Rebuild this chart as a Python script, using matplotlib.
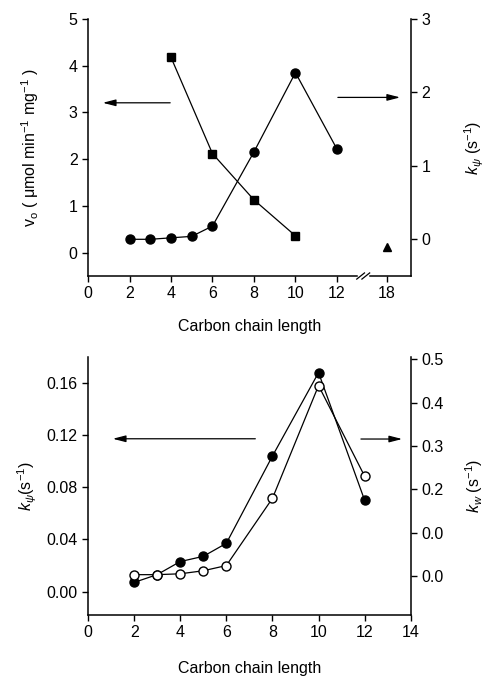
import matplotlib
matplotlib.use("Agg")
import matplotlib.pyplot as plt
from matplotlib.scale import FuncScale
import numpy as np

plt.rcParams["font.family"] = ["Liberation Sans", "DejaVu Sans"]
plt.rcParams["mathtext.fontset"] = "custom"
plt.rcParams["mathtext.rm"] = "Liberation Sans"
plt.rcParams["mathtext.it"] = "Liberation Sans:italic"
plt.rcParams["font.size"] = 11

# top panel: v_o (squares, left axis), k_psi (circles, right axis), C18 (triangle)
top_sq_x = [4, 6, 8, 10]
top_sq_v = [4.18, 2.12, 1.13, 0.36]
top_circ_x = [2, 3, 4, 5, 6, 8, 10, 12]
top_circ_k = [0.0, 0.0, 0.02, 0.04, 0.18, 1.19, 2.27, 1.23]
top_tri_x = [18]
top_tri_v = [0.12]
top_xticks = [0, 2, 4, 6, 8, 10, 12, 18]

# bottom panel: filled circles (left axis), open circles (right axis)
bot_x = [2, 3, 4, 5, 6, 8, 10, 12]
bot_filled = [0.007, 0.013, 0.023, 0.027, 0.037, 0.104, 0.168, 0.070]
bot_open = [0.003, 0.003, 0.005, 0.012, 0.024, 0.179, 0.439, 0.230]
bot_right_ticks = [0.0, 0.1, 0.2, 0.3, 0.4, 0.5]
bot_right_labels = ["0.0", "0.0", "0.2", "0.3", "0.4", "0.5"]

TICK_FS = 11.5
LABEL_FS = 11.5


def fwd(x):
    x = np.asarray(x, dtype=float)
    return np.where(x <= 12, x, 12 + (x - 12) * 0.4)


def inv(y):
    y = np.asarray(y, dtype=float)
    return np.where(y <= 12, y, 12 + (y - 12) / 0.4)


def style_axes(ax, ax2):
    for a in (ax, ax2):
        a.spines["top"].set_visible(False)
        for s in ("left", "right", "bottom"):
            a.spines[s].set_linewidth(1.1)
        a.tick_params(direction="out", length=4, width=1.0, labelsize=TICK_FS)
    ax.spines["right"].set_visible(False)
    ax2.spines["left"].set_visible(False)
    ax2.spines["bottom"].set_visible(False)


def arrow(ax, x0, x1, y):
    ax.annotate("", xy=(x1, y), xytext=(x0, y), xycoords="axes fraction",
                arrowprops=dict(arrowstyle="-|>,head_length=0.7,head_width=0.18",
                                lw=0.9, color="black"))


fig = plt.figure(figsize=(4.89, 6.77), dpi=100)

# ---- top panel
ax1 = fig.add_axes([0.180, 0.5923, 0.6605, 0.3796])
ax1.set_xscale(FuncScale(ax1, (fwd, inv)))
ax1r = ax1.twinx()
ax1.plot(top_sq_x, top_sq_v, "s-", color="black", ms=6.2, lw=0.9)
ax1.plot(top_tri_x, top_tri_v, "^", color="black", ms=6)
ax1r.plot(top_circ_x, top_circ_k, "o-", color="black", ms=6.5, lw=0.9)
ax1.set_xlim(0, 20.93)
ax1.set_ylim(-0.5, 5)
ax1r.set_ylim(-0.5, 3)
ax1.set_xticks(top_xticks)
ax1.set_yticks([0, 1, 2, 3, 4, 5])
ax1r.set_yticks([0, 1, 2, 3])
style_axes(ax1, ax1r)
ax1.set_xlabel("Carbon chain length", labelpad=13, fontsize=LABEL_FS)
ax1.set_ylabel(r"v$_\mathrm{o}$ ( μmol min$^{-1}$ mg$^{-1}$ )", labelpad=20, fontsize=LABEL_FS)
ax1r.set_ylabel(r"$k_\psi$ (s$^{-1}$)", labelpad=23, fontsize=LABEL_FS)
# axis break marks
bx = 0.852
ax1.plot([bx - 0.012, bx + 0.012], [0, 0], transform=ax1.transAxes,
         color="white", lw=2.5, clip_on=False, zorder=5)
for dx in (-0.008, 0.008):
    ax1.plot([bx + dx - 0.012, bx + dx + 0.012], [-0.012, 0.012],
             transform=ax1.transAxes, color="black", lw=0.9, clip_on=False, zorder=6)
arrow(ax1, 0.263, 0.037, 0.674)
arrow(ax1, 0.765, 0.975, 0.695)

# ---- bottom panel
ax2 = fig.add_axes([0.180, 0.0916, 0.660, 0.3811])
ax2r = ax2.twinx()
ax2.plot(bot_x, bot_filled, "o-", color="black", ms=6.5, lw=0.9, zorder=2)
ax2r.plot(bot_x, bot_open, "o-", color="black", mfc="white", ms=6.5, lw=0.9)
ax2.set_xlim(0, 14)
ax2.set_ylim(-0.018, 0.18)
ax2r.set_ylim(-0.09, 0.505)
ax2.set_xticks([0, 2, 4, 6, 8, 10, 12, 14])
ax2.set_yticks([0.0, 0.04, 0.08, 0.12, 0.16])
ax2.set_yticklabels(["0.00", "0.04", "0.08", "0.12", "0.16"])
ax2r.set_yticks(bot_right_ticks)
ax2r.set_yticklabels(bot_right_labels)
style_axes(ax2, ax2r)
ax2.set_xlabel("Carbon chain length", labelpad=15, fontsize=LABEL_FS)
ax2.set_ylabel(r"$k_\psi$(s$^{-1}$)", labelpad=5, fontsize=LABEL_FS)
ax2r.set_ylabel(r"$k_w$ (s$^{-1}$)", labelpad=14, fontsize=LABEL_FS)
arrow(ax2, 0.527, 0.068, 0.683)
arrow(ax2, 0.837, 0.982, 0.682)

fig.savefig("out.png", dpi=100)
